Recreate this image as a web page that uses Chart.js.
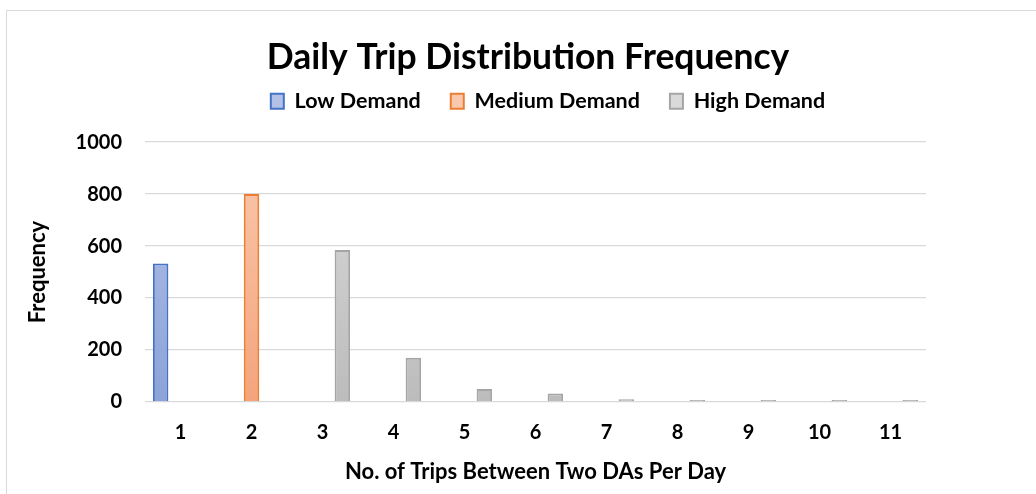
<!DOCTYPE html>
<html>
<head>
<meta charset="utf-8">
<script src="https://cdn.jsdelivr.net/npm/chart.js@4/dist/chart.umd.min.js"></script>
<style>
  html, body { margin: 0; padding: 0; background: #fff; }
  #frame { position: absolute; left: 6px; top: 10px; width: 1040px; height: 500px; border: 1px solid #d9d9d9; }
  #wrap { position: absolute; left: 0; top: 0; width: 1036px; height: 494px; }
</style>
</head>
<body>
<div id="frame"></div>
<div id="wrap"><canvas id="chart"></canvas></div>
<script>
  // trips per day (x categories)
  var categories = ["1", "2", "3", "4", "5", "6", "7", "8", "9", "10", "11"];

  // frequency per demand group
  var lowDemand = [533, null, null, null, null, null, null, null, null, null, null];
  var mediumDemand = [null, 800, null, null, null, null, null, null, null, null, null];
  var highDemand = [null, null, 585, 170, 50, 33, 11, 4, 3, 3, 3];

  var yTicks = [0, 200, 400, 600, 800, 1000];

  var fontFamily = "Lato, 'Open Sans', sans-serif";

  function gradient(top, bottom) {
    return function (ctx) {
      var area = ctx.chart.chartArea;
      if (!area) return bottom;
      var g = ctx.chart.ctx.createLinearGradient(0, area.top, 0, area.bottom);
      g.addColorStop(0, top);
      g.addColorStop(1, bottom);
      return g;
    };
  }

  // push the plot down below the legend, and nudge the legend right a bit
  const legendSpace = {
    id: "legendSpace",
    beforeInit(chart) {
      const fit = chart.legend.fit;
      chart.legend.fit = function () {
        fit.bind(chart.legend)();
        this.height += 20;
      };
      const draw = chart.legend.draw;
      chart.legend.draw = function () {
        const ctx = chart.ctx;
        ctx.save();
        ctx.translate(20, 0);
        draw.bind(chart.legend)();
        ctx.restore();
      };
    },
  };

  new Chart(document.getElementById("chart"), {
    type: "bar",
    data: {
      labels: categories,
      datasets: [
        {
          label: "Low Demand",
          data: lowDemand,
          backgroundColor: gradient("#b3c1e7", "#8ca3d8"),
          borderColor: "#4472c4",
          borderWidth: 2,
        },
        {
          label: "Medium Demand",
          data: mediumDemand,
          backgroundColor: gradient("#f9c9ae", "#f4a47c"),
          borderColor: "#ed7d31",
          borderWidth: 2,
        },
        {
          label: "High Demand",
          data: highDemand,
          backgroundColor: gradient("#dadada", "#bcbcbc"),
          borderColor: "#a5a5a5",
          borderWidth: 2,
        },
      ],
    },
    plugins: [legendSpace],
    options: {
      responsive: true,
      maintainAspectRatio: false,
      animation: false,
      categoryPercentage: 0.84,
      barPercentage: 0.78,
      minBarLength: 2,
      layout: { padding: { left: 20, right: 0, top: 0, bottom: 4 } },
      plugins: {
        title: {
          display: true,
          text: "Daily Trip Distribution Frequency",
          color: "#000",
          font: { family: fontFamily, size: 35.5, weight: "bold" },
          padding: { top: 36, bottom: -18 },
        },
        legend: {
          display: true,
          labels: {
            color: "#000",
            font: { family: fontFamily, size: 21.5, weight: "bold" },
            boxWidth: 13,
            boxHeight: 15,
            padding: 30,
          },
        },
        tooltip: { enabled: false },
      },
      scales: {
        x: {
          grid: { display: false, drawTicks: false },
          border: { display: false },
          ticks: {
            color: "#000",
            padding: 19,
            font: { family: fontFamily, size: 20, weight: "bold" },
          },
          title: {
            display: true,
            text: "No. of Trips Between Two DAs Per Day",
            color: "#000",
            font: { family: fontFamily, size: 22, weight: "bold" },
            padding: { top: 0, bottom: 5 },
          },
          afterFit(scale) {
            scale.height = 88;
          },
        },
        y: {
          min: 0,
          max: 1000,
          afterBuildTicks(scale) {
            scale.ticks = yTicks.map((v) => ({ value: v }));
          },
          grid: { color: "#d9d9d9", lineWidth: 1.3, drawTicks: false },
          border: { display: false },
          ticks: {
            color: "#000",
            padding: 23,
            font: { family: fontFamily, size: 20, weight: "bold" },
            callback: (v) => String(v),
          },
          title: {
            display: true,
            text: "Frequency",
            color: "#000",
            font: { family: fontFamily, size: 22, weight: "bold" },
            padding: { top: 5, bottom: 0 },
          },
          afterFit(scale) {
            scale.width = 125;
          },
        },
        // empty strip on the right so the title centres like the original
        side: {
          type: "linear",
          position: "right",
          display: true,
          grid: { display: false, drawTicks: false },
          border: { display: false },
          ticks: { display: false },
          afterFit(scale) {
            scale.width = 110;
          },
        },
      },
    },
  });
</script>
</body>
</html>
